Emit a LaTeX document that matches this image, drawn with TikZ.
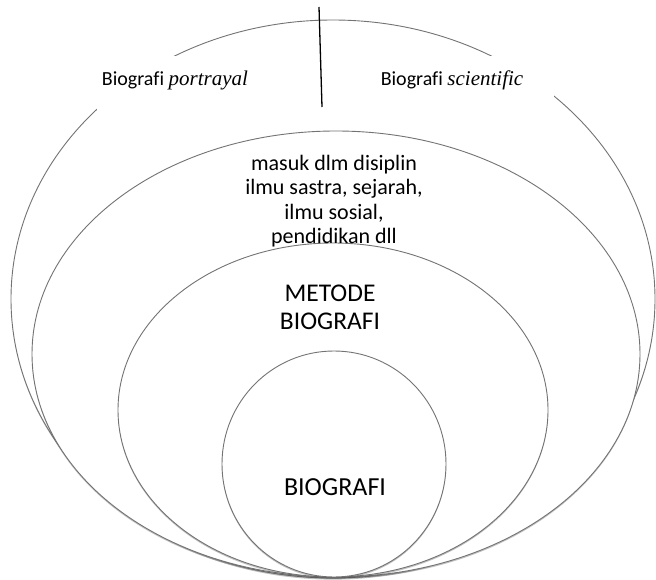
\documentclass[tikz,border=0pt]{standalone}
\usepackage{fontspec}
\setmainfont{Carlito}[Ligatures=NoCommon]
\newfontfamily\timesfont{Liberation Serif}[Ligatures=NoCommon]
\usetikzlibrary{shapes.geometric,shadows}
\begin{document}
\begin{tikzpicture}[x=1pt,y=-1pt,
  ring/.style={ellipse, draw=black!55, line width=0.9pt, fill=white, inner sep=0pt,
    drop shadow={shadow xshift=0pt, shadow yshift=-1.6pt, opacity=0.35, fill=black!70}},
  tag/.style={inner sep=0pt, font=\fontsize{20}{24}\selectfont},
  ringtext/.style={inner sep=0pt, align=center}]
\useasboundingbox (0,0) rectangle (656,580);

% outer ring: the two kinds of biography
\node[ring, minimum width=644pt, minimum height=558pt] (outer) at (333,299) {};

% white patches that open the outer ring behind the two labels
\fill[white] (97,56) rectangle (253,110);
\fill[white] (376,56) rectangle (554,100);

\node[tag] (portrayal) at (175,80) {Biografi {\fontsize{21}{24}\timesfont\itshape portrayal}};
\node[tag] (scientific) at (452,80) {Biografi {\fontsize{21}{24}\timesfont\itshape scientific}};

% divider between the two labels
\coordinate (divtop) at (319,7);
\coordinate (divbot) at (322,107);
\draw[line width=1.3pt] (divtop) -- (divbot);

% nested rings, all touching at the bottom
\node[ring, minimum width=608pt, minimum height=446pt] (discipline) at (336,354) {};
\node[ring, minimum width=430pt, minimum height=334pt] (method) at (333,410) {};
\node[ring, minimum width=224pt, minimum height=226pt] (core) at (334,464) {};

\node[ringtext, font=\fontsize{22}{24.5}\selectfont] (disciplinetext) at (334,201)
  {masuk dlm disiplin\\ilmu sastra, sejarah,\\ilmu sosial,\\pendidikan dll};
\node[ringtext, font=\fontsize{25.5}{28}\selectfont] (methodtext) at (330,307)
  {METODE\\BIOGRAFI};
\node[ringtext, font=\fontsize{26}{30}\selectfont] (coretext) at (335,487) {BIOGRAFI};
\end{tikzpicture}
\end{document}
